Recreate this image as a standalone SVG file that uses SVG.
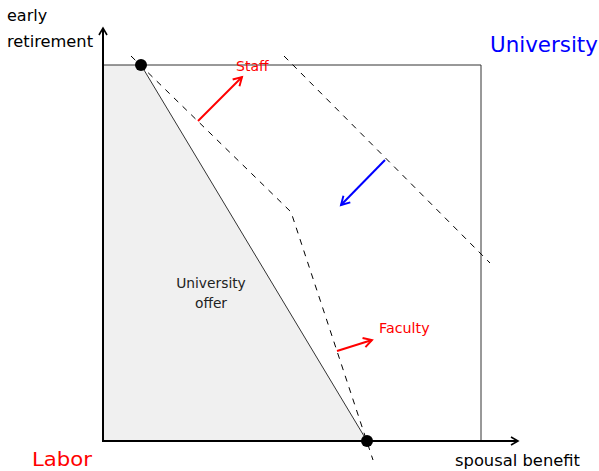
<svg xmlns="http://www.w3.org/2000/svg" width="599" height="471" viewBox="0 0 599 471">
<style>
text{font-family:"DejaVu Sans","Liberation Sans",sans-serif}
.ax{stroke:#000;stroke-width:2;fill:none}
.thin{stroke:#333;stroke-width:1;fill:none}
.dash{stroke:#000;stroke-width:1;fill:none;stroke-dasharray:6,6}
.red{stroke:#f00;stroke-width:2;fill:none}
.blue{stroke:#00f;stroke-width:2;fill:none}
</style>
<defs>
<marker id="ah" viewBox="0 0 10 10" refX="8" refY="5" markerWidth="10" markerHeight="10" markerUnits="userSpaceOnUse" orient="auto"><path d="M1,1 L8,5 L1,9" fill="none" stroke="#000" stroke-width="1.6"/></marker>
<marker id="ar" viewBox="0 0 10 10" refX="8" refY="5" markerWidth="12" markerHeight="12" markerUnits="userSpaceOnUse" orient="auto"><path d="M1,1 L8,5 L1,9" fill="none" stroke="#f00" stroke-width="1.6"/></marker>
<marker id="ab" viewBox="0 0 10 10" refX="8" refY="5" markerWidth="12" markerHeight="12" markerUnits="userSpaceOnUse" orient="auto"><path d="M1,1 L8,5 L1,9" fill="none" stroke="#00f" stroke-width="1.6"/></marker>
</defs>
<g id="offer-region">
<polygon points="103,65 141,65 367,441 103,441" fill="#f0f0f0"/>
<text x="211" y="288" font-size="13.8" text-anchor="middle" fill="#222">University</text>
<text x="211" y="308" font-size="13.8" text-anchor="middle" fill="#222">offer</text>
</g>
<g id="box">
<polyline class="thin" points="103,65 481,65 481,441"/>
</g>
<g id="connectors">
<line class="thin" x1="141" y1="65" x2="367" y2="441"/>
<polyline class="dash" points="131,56 291,212 373,460"/>
<line class="dash" x1="284" y1="56" x2="490" y2="263"/>
<line class="red" x1="198" y1="121" x2="242" y2="77" marker-end="url(#ar)"/>
<line class="blue" x1="385" y1="160" x2="341" y2="205" marker-end="url(#ab)"/>
<line class="red" x1="337" y1="351" x2="372" y2="340" marker-end="url(#ar)"/>
</g>
<g id="axes">
<line class="ax" x1="103" y1="442" x2="103" y2="28" marker-end="url(#ah)"/>
<line class="ax" x1="102" y1="441" x2="518" y2="441" marker-end="url(#ah)"/>
<text x="7" y="21" font-size="16" fill="#000">early</text>
<text x="7" y="47" font-size="16" fill="#000" textLength="86" lengthAdjust="spacingAndGlyphs">retirement</text>
<text x="455" y="466" font-size="16" fill="#000" textLength="125" lengthAdjust="spacingAndGlyphs">spousal benefit</text>
</g>
<g id="points">
<circle cx="141" cy="65" r="6" fill="#000"/>
<circle cx="367" cy="441" r="6" fill="#000"/>
</g>
<g id="labels">
<text x="236" y="71" font-size="14" fill="#f00">Staff</text>
<text x="379" y="333" font-size="14.3" fill="#f00">Faculty</text>
<text x="490" y="52" font-size="21.4" fill="#00f">University</text>
<text x="32" y="466" font-size="20" fill="#f00" textLength="60" lengthAdjust="spacingAndGlyphs">Labor</text>
</g>
</svg>
